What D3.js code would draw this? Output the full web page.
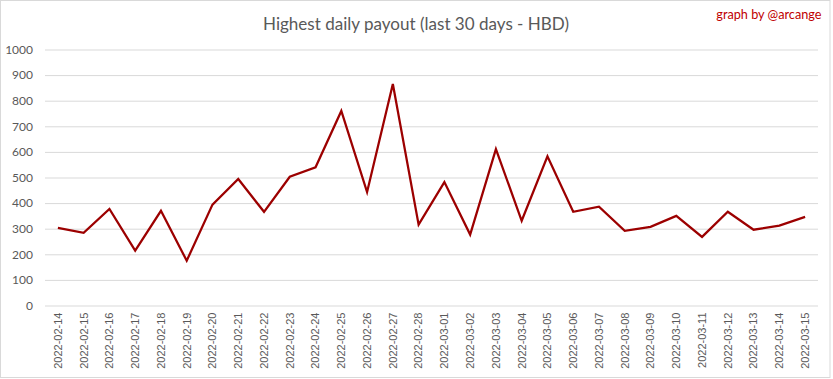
<!DOCTYPE html>
<html>
<head>
<meta charset="utf-8">
<script src="https://cdn.jsdelivr.net/npm/d3@7"></script>
<style>
  html, body { margin: 0; padding: 0; background: #fff; }
  svg { display: block; }
</style>
</head>
<body>
<svg id="chart" width="833" height="379"></svg>
<script>
const dates = ["2022-02-14","2022-02-15","2022-02-16","2022-02-17","2022-02-18","2022-02-19","2022-02-20","2022-02-21","2022-02-22","2022-02-23","2022-02-24","2022-02-25","2022-02-26","2022-02-27","2022-02-28","2022-03-01","2022-03-02","2022-03-03","2022-03-04","2022-03-05","2022-03-06","2022-03-07","2022-03-08","2022-03-09","2022-03-10","2022-03-11","2022-03-12","2022-03-13","2022-03-14","2022-03-15"];
const payouts = [303,284,377,214,370,175,394,494,366,503,540,760,443,865,316,482,277,611,331,583,366,386,292,307,350,268,366,296,312,346];
const yTicks = [0,100,200,300,400,500,600,700,800,900,1000];
const titleText = "Highest daily payout (last 30 days - HBD)";
const creditText = "graph by @arcange";

(function () {
const svg = d3.select("#chart");
const mLeft = 45, mRight = 818, mTop = 49.5, mBottom = 305.5;
const font = "Lato, 'Open Sans', 'Liberation Sans', sans-serif";

svg.append("rect").attr("x", 0.5).attr("y", 0.5).attr("width", 829.5).attr("height", 377)
  .attr("fill", "#fff").attr("stroke", "#d9d9d9").attr("stroke-width", 1);

const x = d3.scaleBand().domain(dates).range([mLeft, mRight]).paddingInner(0).paddingOuter(0);
const y = d3.scaleLinear().domain([0, 1000]).range([mBottom, mTop]);

const yAxis = d3.axisLeft(y).tickValues(yTicks).tickSize(-(mRight - mLeft)).tickPadding(12).tickFormat(d3.format("d"));
const gy = svg.append("g").attr("transform", `translate(${mLeft},0)`).call(yAxis);
gy.select(".domain").remove();
gy.selectAll(".tick line").attr("stroke", "#d9d9d9").attr("stroke-width", 1);
gy.selectAll(".tick text").attr("fill", "#595959").attr("font-family", font).attr("font-size", 12);

const xAxis = d3.axisBottom(x).tickSize(0).tickPadding(0);
const gx = svg.append("g").attr("transform", `translate(0,${mBottom})`).call(xAxis);
gx.select(".domain").remove();
gx.selectAll(".tick text")
  .attr("fill", "#595959").attr("font-family", "'Liberation Sans', Arial, sans-serif").attr("font-size", 11)
  .attr("text-anchor", "end")
  .attr("transform", "translate(0,7) rotate(-90)")
  .attr("x", 0).attr("y", 0).attr("dy", "0.35em");

const line = d3.line().x((d, i) => x(dates[i]) + x.bandwidth() / 2).y(d => y(d));
svg.append("path").datum(payouts).attr("d", line)
  .attr("fill", "none").attr("stroke", "#9c0000").attr("stroke-width", 2.25)
  .attr("stroke-linejoin", "miter");

svg.append("text").attr("x", 416).attr("y", 30).attr("text-anchor", "middle")
  .attr("font-family", font).attr("font-size", 18).attr("fill", "#595959")
  .attr("textLength", 306).attr("lengthAdjust", "spacingAndGlyphs")
  .text(titleText);

svg.append("text").attr("x", 821.5).attr("y", 19).attr("text-anchor", "end")
  .attr("font-family", font).attr("font-size", 12.7).attr("fill", "#c00000")
  .text(creditText);
})();
</script>
</body>
</html>
